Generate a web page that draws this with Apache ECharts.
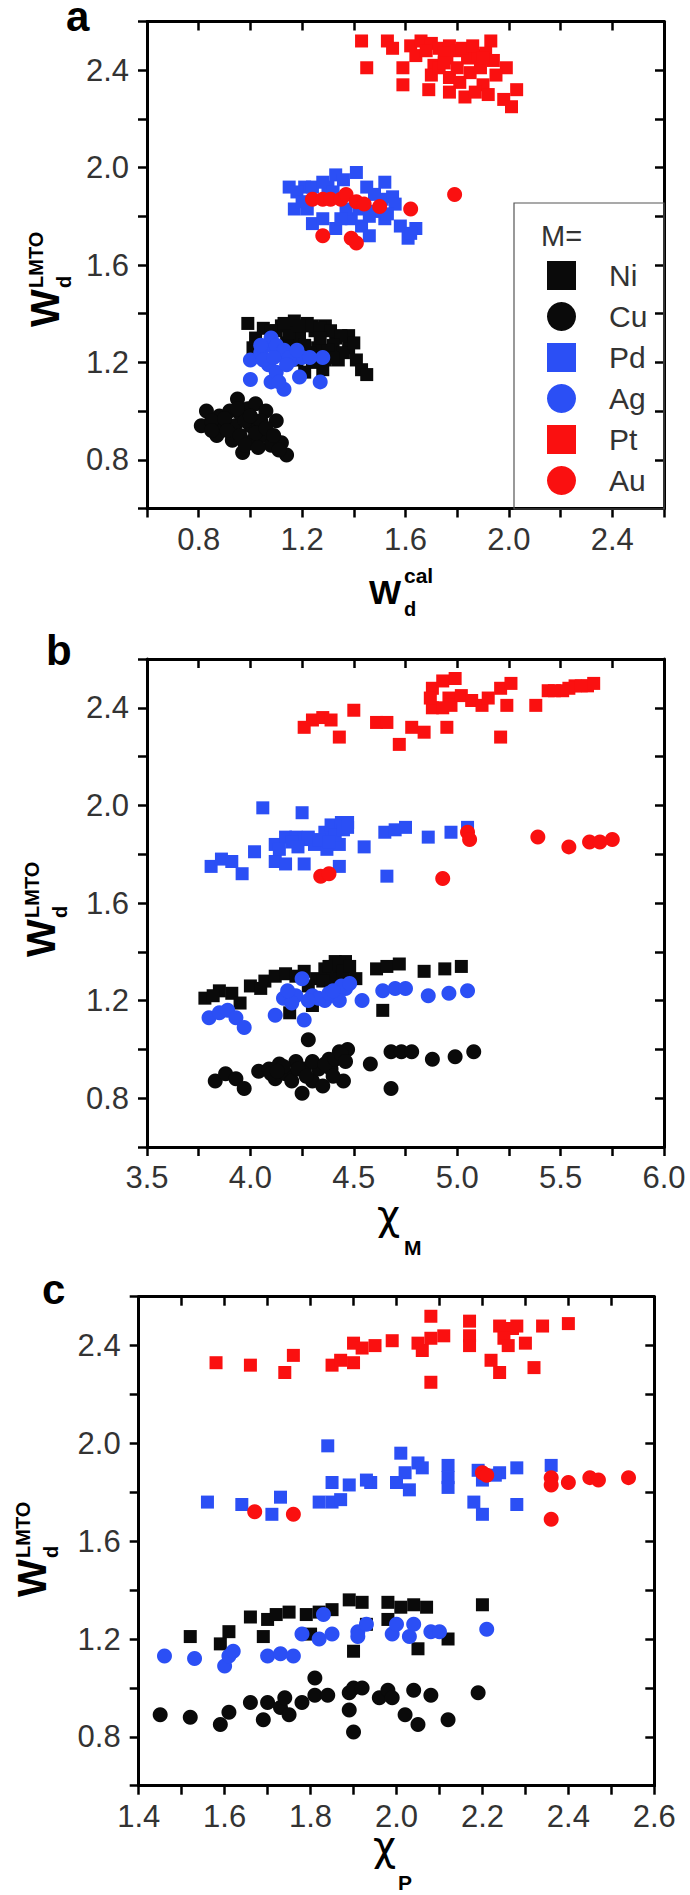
<!DOCTYPE html>
<html>
<head>
<meta charset="utf-8">
<script src="https://cdn.jsdelivr.net/npm/echarts@6/dist/echarts.min.js"></script>
<style>
  html, body { margin: 0; padding: 0; background: #fff; }
  #wrap { position: relative; width: 690px; height: 1895px; }
  .panel { position: absolute; left: 0; width: 690px; }
</style>
</head>
<body>
<div id="wrap">
  <div id="pa" class="panel" style="top:0;height:632px"></div>
  <div id="pb" class="panel" style="top:632px;height:632px"></div>
  <div id="pc" class="panel" style="top:1264px;height:631px"></div>
</div>
<script>
// legend order / categories
const metals = ['Ni', 'Cu', 'Pd', 'Ag', 'Pt', 'Au'];

// tick labels
const yTickLabels = ['0.8', '1.2', '1.6', '2.0', '2.4'];
const xTickLabelsA = ['0.8', '1.2', '1.6', '2.0', '2.4'];
const xTickLabelsB = ['3.5', '4.0', '4.5', '5.0', '5.5', '6.0'];
const xTickLabelsC = ['1.4', '1.6', '1.8', '2.0', '2.2', '2.4', '2.6'];

// panel a: W_d^cal vs W_d^LMTO
const niA = [[0.99,1.36],[1.01,1.26],[1.12,1.35],[1.17,1.37],[1.22,1.36],[1.29,1.35],[1.33,1.30],[1.38,1.31],[1.38,1.26],[1.29,1.21],[1.34,1.21],[1.41,1.21],[1.43,1.17],[1.45,1.15],[1.26,1.26],[1.19,1.30],[1.14,1.28],[1.21,1.16],[1.28,1.17],[1.02,1.30],[1.10,1.33],[1.15,1.32],[1.25,1.33],[1.05,1.34],[1.08,1.33],[1.13,1.36],[1.19,1.35],[1.24,1.35],[1.27,1.34],[1.31,1.33],[1.35,1.31],[1.32,1.27],[1.30,1.25],[1.36,1.24],[1.23,1.24],[1.21,1.27],[1.27,1.30],[1.32,1.22],[1.40,1.28],[1.18,1.21],[1.24,1.20]];
const cuA = [[0.83,1.00],[0.81,0.94],[0.88,0.98],[0.95,1.05],[0.92,1.00],[0.99,1.01],[1.02,1.03],[1.06,1.00],[1.10,0.96],[0.87,0.90],[0.93,0.88],[0.97,0.83],[1.01,0.88],[1.05,0.90],[1.08,0.86],[1.12,0.87],[1.14,0.82],[0.94,0.94],[1.00,0.94],[0.89,0.94],[1.04,0.96],[0.85,0.96],[0.90,0.97],[0.96,0.99],[0.98,0.96],[0.91,0.92],[0.96,0.90],[1.02,0.91],[1.06,0.93],[0.98,0.86],[1.03,0.85],[1.09,0.90],[0.95,1.01],[1.00,0.98],[0.85,0.92],[1.11,0.84]];
const pdA = [[1.15,1.92],[1.21,1.92],[1.24,1.92],[1.33,1.97],[1.41,1.98],[1.52,1.94],[1.30,1.92],[1.17,1.83],[1.22,1.83],[1.24,1.77],[1.33,1.75],[1.39,1.79],[1.43,1.76],[1.46,1.72],[1.48,1.82],[1.52,1.79],[1.51,1.87],[1.55,1.88],[1.56,1.85],[1.61,1.71],[1.64,1.75],[1.37,1.83],[1.18,1.90],[1.28,1.94],[1.32,1.90],[1.36,1.95],[1.45,1.92],[1.48,1.89],[1.42,1.83],[1.46,1.80],[1.53,1.81],[1.58,1.76],[1.62,1.73],[1.35,1.79],[1.28,1.79],[1.20,1.86]];
const agA = [[1.00,1.21],[1.04,1.24],[1.08,1.27],[1.12,1.23],[1.16,1.21],[1.20,1.22],[1.07,1.19],[1.00,1.13],[1.08,1.12],[1.13,1.09],[1.19,1.14],[1.27,1.12],[1.28,1.22],[1.10,1.16],[1.08,1.30],[1.10,1.27],[1.05,1.21],[1.13,1.25],[1.15,1.22],[1.18,1.25],[1.09,1.22],[1.14,1.19],[1.04,1.27],[1.23,1.22],[1.11,1.12]];
const ptA = [[1.43,2.52],[1.53,2.52],[1.45,2.41],[1.59,2.41],[1.59,2.34],[1.55,2.49],[1.62,2.50],[1.66,2.52],[1.70,2.51],[1.73,2.49],[1.77,2.50],[1.80,2.48],[1.93,2.52],[1.71,2.42],[1.70,2.38],[1.76,2.45],[1.80,2.41],[1.84,2.45],[1.88,2.46],[1.91,2.47],[1.89,2.41],[1.77,2.37],[1.69,2.32],[1.77,2.31],[1.83,2.29],[1.90,2.34],[1.99,2.41],[2.03,2.32],[1.98,2.28],[2.01,2.25],[1.94,2.44],[1.73,2.41],[1.64,2.46],[1.68,2.48],[1.75,2.47],[1.82,2.49],[1.86,2.50],[1.90,2.45],[1.85,2.39],[1.81,2.35],[1.75,2.43],[1.95,2.38],[1.87,2.31],[1.92,2.30]];
const auA = [[1.24,1.87],[1.28,1.87],[1.31,1.87],[1.35,1.87],[1.37,1.89],[1.41,1.86],[1.44,1.85],[1.50,1.84],[1.62,1.83],[1.79,1.89],[1.28,1.72],[1.39,1.71],[1.41,1.69]];

// panel b: chi_M vs W_d^LMTO
const niB = [[3.78,1.21],[3.85,1.24],[3.91,1.23],[3.95,1.19],[4.00,1.26],[4.07,1.28],[4.12,1.30],[4.17,1.31],[4.26,1.32],[4.32,1.29],[4.36,1.33],[4.41,1.36],[4.46,1.36],[4.43,1.31],[4.51,1.29],[4.61,1.33],[4.66,1.34],[4.72,1.35],[4.84,1.32],[4.94,1.33],[5.02,1.34],[4.64,1.16],[4.19,1.15],[4.30,1.18],[4.38,1.34],[4.43,1.35],[4.40,1.29],[4.45,1.32],[4.35,1.28],[4.28,1.26],[4.22,1.30],[4.05,1.25],[3.82,1.22],[4.48,1.34],[4.39,1.25]];
const cuB = [[3.83,0.87],[3.88,0.90],[3.93,0.88],[3.97,0.84],[4.04,0.91],[4.09,0.92],[4.14,0.94],[4.12,0.88],[4.17,0.90],[4.22,0.95],[4.20,0.87],[4.28,1.04],[4.25,0.82],[4.30,0.87],[4.35,0.85],[4.26,0.92],[4.33,0.92],[4.38,0.96],[4.43,0.99],[4.47,1.00],[4.39,0.92],[4.45,0.87],[4.58,0.94],[4.68,0.99],[4.73,0.99],[4.78,0.99],[4.68,0.84],[4.88,0.96],[4.99,0.97],[5.08,0.99],[4.16,0.93],[4.23,0.92],[4.30,0.95],[4.36,0.94],[4.41,0.96],[4.44,0.98],[4.46,0.95],[4.10,0.90],[4.27,0.89],[4.40,0.89],[4.13,0.91]];
const pdB = [[4.06,1.99],[4.25,1.97],[4.02,1.81],[4.12,1.84],[4.17,1.87],[4.22,1.87],[4.26,1.86],[4.31,1.84],[4.36,1.89],[4.39,1.92],[4.44,1.93],[4.47,1.93],[4.43,1.84],[4.37,1.82],[4.12,1.77],[4.17,1.76],[4.26,1.76],[4.43,1.75],[3.96,1.72],[3.81,1.75],[3.86,1.78],[3.91,1.77],[4.55,1.83],[4.65,1.89],[4.70,1.90],[4.75,1.91],[4.86,1.87],[4.97,1.89],[5.05,1.91],[4.66,1.71],[4.20,1.85],[4.28,1.87],[4.33,1.86],[4.41,1.88],[4.45,1.90],[4.47,1.91],[4.38,1.85],[4.14,1.82],[4.23,1.83]];
const agB = [[3.80,1.13],[3.85,1.15],[3.89,1.16],[3.93,1.13],[3.97,1.09],[4.12,1.14],[4.26,1.12],[4.16,1.21],[4.22,1.22],[4.25,1.29],[4.30,1.22],[4.36,1.20],[4.41,1.22],[4.46,1.25],[4.43,1.20],[4.54,1.20],[4.64,1.24],[4.70,1.25],[4.75,1.25],[4.86,1.22],[4.96,1.23],[5.05,1.24],[4.33,1.21],[4.38,1.23],[4.44,1.26],[4.48,1.27],[4.40,1.24],[4.20,1.19],[4.28,1.20],[4.18,1.24]];
const ptB = [[4.26,2.32],[4.30,2.35],[4.35,2.36],[4.39,2.35],[4.43,2.28],[4.50,2.39],[4.61,2.34],[4.66,2.34],[4.72,2.25],[4.78,2.32],[4.84,2.30],[4.95,2.32],[4.88,2.40],[4.88,2.48],[4.93,2.51],[4.99,2.52],[4.96,2.44],[4.87,2.44],[4.93,2.40],[4.97,2.41],[5.02,2.45],[5.07,2.43],[5.12,2.41],[5.15,2.44],[5.21,2.48],[5.26,2.50],[5.24,2.41],[5.21,2.28],[5.38,2.41],[5.44,2.47],[5.51,2.47],[5.57,2.49],[5.63,2.49],[5.66,2.50],[5.47,2.47],[5.54,2.48],[5.60,2.49]];
const auB = [[4.34,1.71],[4.38,1.72],[5.05,1.89],[5.06,1.86],[4.93,1.70],[5.39,1.87],[5.54,1.83],[5.64,1.85],[5.69,1.85],[5.75,1.86]];

// panel c: chi_P vs W_d^LMTO
const niC = [[1.52,1.21],[1.59,1.18],[1.61,1.23],[1.66,1.29],[1.70,1.28],[1.72,1.30],[1.75,1.31],[1.79,1.30],[1.82,1.31],[1.85,1.32],[1.89,1.36],[1.92,1.35],[1.98,1.35],[2.01,1.33],[2.04,1.34],[2.07,1.33],[1.90,1.15],[2.05,1.16],[2.12,1.20],[2.20,1.34],[1.69,1.21],[1.80,1.22],[1.93,1.26],[1.98,1.28]];
const cuC = [[1.45,0.89],[1.52,0.88],[1.59,0.85],[1.61,0.90],[1.66,0.94],[1.69,0.87],[1.70,0.94],[1.73,0.92],[1.74,0.96],[1.75,0.89],[1.78,0.94],[1.81,1.04],[1.81,0.97],[1.84,0.97],[1.89,0.98],[1.89,0.91],[1.90,1.00],[1.92,1.00],[1.90,0.82],[1.96,0.96],[1.98,0.99],[1.99,0.96],[2.02,0.89],[2.04,0.99],[2.05,0.85],[2.08,0.97],[2.12,0.87],[2.19,0.98]];
const pdC = [[1.56,1.76],[1.64,1.75],[1.73,1.78],[1.71,1.71],[1.82,1.76],[1.85,1.76],[1.87,1.77],[1.85,1.84],[1.89,1.83],[1.94,1.84],[2.00,1.84],[2.02,1.88],[2.03,1.81],[2.01,1.96],[2.05,1.92],[2.06,1.90],[2.12,1.91],[2.12,1.86],[2.12,1.82],[2.19,1.89],[2.20,1.85],[2.24,1.88],[2.28,1.90],[2.18,1.76],[2.20,1.71],[2.28,1.75],[2.36,1.91],[1.84,1.99],[1.93,1.85],[2.23,1.87]];
const agC = [[1.46,1.13],[1.53,1.12],[1.60,1.09],[1.61,1.13],[1.62,1.15],[1.70,1.13],[1.73,1.14],[1.76,1.13],[1.83,1.30],[1.78,1.22],[1.82,1.20],[1.85,1.22],[1.91,1.23],[1.93,1.26],[1.99,1.22],[2.03,1.21],[2.04,1.26],[2.08,1.23],[2.10,1.23],[2.21,1.24],[1.91,1.21],[2.00,1.26]];
const ptC = [[1.58,2.33],[1.66,2.32],[1.74,2.29],[1.76,2.36],[1.85,2.32],[1.87,2.34],[1.90,2.33],[1.90,2.41],[1.92,2.39],[1.95,2.40],[1.99,2.42],[2.05,2.41],[2.06,2.38],[2.08,2.43],[2.11,2.44],[2.08,2.52],[2.08,2.25],[2.17,2.50],[2.17,2.44],[2.17,2.40],[2.22,2.34],[2.24,2.29],[2.24,2.48],[2.27,2.47],[2.25,2.43],[2.26,2.40],[2.28,2.48],[2.30,2.41],[2.32,2.31],[2.34,2.48],[2.40,2.49]];
const auC = [[1.67,1.72],[1.76,1.71],[2.20,1.88],[2.21,1.87],[2.36,1.86],[2.36,1.83],[2.40,1.84],[2.45,1.86],[2.47,1.85],[2.54,1.86],[2.36,1.69]];

const BLACK = '#0a0a0a', BLUE = '#2b4ff5', RED = '#fa1010';
const metalColor = { Ni: BLACK, Cu: BLACK, Pd: BLUE, Ag: BLUE, Pt: RED, Au: RED };
const metalSymbol = { Ni: 'rect', Cu: 'circle', Pd: 'rect', Ag: 'circle', Pt: 'rect', Au: 'circle' };
const FONT = 'Liberation Sans';

function valueAxis(position, min, max, step, labels, inside, margin) {
  return {
    type: 'value', position, min, max, interval: step,
    axisLine: { show: true, onZero: false, lineStyle: { color: '#000', width: 3 } },
    splitLine: { show: false },
    axisTick: { show: true, inside: inside, length: 9, lineStyle: { color: '#000', width: 2.5 } },
    axisLabel: inside ? { show: false } : {
      show: true, margin, color: '#333', fontSize: 31, fontFamily: FONT,
      showMinLabel: true, showMaxLabel: true,
      formatter: (v) => { const s = v.toFixed(1); return labels.includes(s) ? s : ''; },
    },
  };
}

function txt(x, y, text, size, weight, family) {
  return {
    type: 'text', x, y,
    style: { text, fontSize: size, fontWeight: weight || 'normal', fontFamily: family || FONT,
             fill: '#000', align: 'left', verticalAlign: 'middle' },
  };
}

// rotated y axis title W_d^LMTO
function yTitle(x, y) {
  return {
    type: 'group', x, y, rotation: Math.PI / 2,
    children: [
      txt(0, -14, 'W', 40, 'bold'),
      txt(39, 5, 'd', 20, 'bold'),
      txt(39, -23, 'LMTO', 20, 'bold'),
    ],
  };
}

const panels = [
  { el: 'pa', data: { Ni: niA, Cu: cuA, Pd: pdA, Ag: agA, Pt: ptA, Au: auA },
    grid: { left: 147, top: 21.5, width: 517, height: 487 },
    xMin: 0.6, xMax: 2.6, xStep: 0.2, xLabels: xTickLabelsA, legend: true,
    graphic: [
      txt(66, 16, 'a', 42, 'bold'), yTitle(59, 327),
      txt(369, 592, 'W', 34, 'bold'), txt(404, 575, 'cal', 21, 'bold'), txt(404, 609, 'd', 20, 'bold'),
      { type: 'rect', shape: { x: 514, y: 203, width: 150, height: 306 },
        style: { fill: 'none', stroke: '#555', lineWidth: 1.2 }, z: 1 },
      { type: 'text', x: 541, y: 236,
        style: { text: 'M=', fontSize: 29, fontFamily: FONT, fill: '#333', align: 'left', verticalAlign: 'middle' } },
    ] },
  { el: 'pb', data: { Ni: niB, Cu: cuB, Pd: pdB, Ag: agB, Pt: ptB, Au: auB },
    grid: { left: 147, top: 27, width: 517, height: 488 },
    xMin: 3.5, xMax: 6.0, xStep: 0.25, xLabels: xTickLabelsB, legend: false,
    graphic: [
      txt(46, 18, 'b', 42, 'bold'), yTitle(55, 325),
      txt(377, 583, 'χ', 40, 'normal', 'DejaVu Sans'), txt(404, 615, 'M', 21, 'bold'),
    ] },
  { el: 'pc', data: { Ni: niC, Cu: cuC, Pd: pdC, Ag: agC, Pt: ptC, Au: auC },
    grid: { left: 138.7, top: 32.7, width: 515.6, height: 489 },
    xMin: 1.4, xMax: 2.6, xStep: 0.1, xLabels: xTickLabelsC, legend: false,
    graphic: [
      txt(42, 25, 'c', 42, 'bold'), yTitle(46, 333),
      txt(373, 582, 'χ', 40, 'normal', 'DejaVu Sans'), txt(398, 618, 'P', 21, 'bold'),
    ] },
];

panels.forEach((p) => {
  const chart = echarts.init(document.getElementById(p.el), null, { renderer: 'svg' });
  chart.setOption({
    animation: false,
    backgroundColor: '#fff',
    grid: p.grid,
    xAxis: [
      valueAxis('bottom', p.xMin, p.xMax, p.xStep, p.xLabels, false, 15),
      valueAxis('top', p.xMin, p.xMax, p.xStep, p.xLabels, true),
    ],
    yAxis: [
      valueAxis('left', 0.6, 2.6, 0.2, yTickLabels, false, 18),
      valueAxis('right', 0.6, 2.6, 0.2, yTickLabels, true),
    ],
    legend: p.legend ? {
      orient: 'vertical', left: 547, top: 260.5, padding: 0,
      itemGap: 11, itemWidth: 29, itemHeight: 29, selectedMode: false,
      textStyle: { fontSize: 30, fontFamily: FONT, color: '#333', lineHeight: 30, padding: [0, 0, 0, 28] },
      data: metals.map((m) => ({ name: m, icon: metalSymbol[m], itemStyle: { color: metalColor[m] } })),
    } : { show: false },
    graphic: p.graphic,
    series: metals.map((m) => ({
      type: 'scatter', name: m, xAxisIndex: 0, yAxisIndex: 0,
      data: p.data[m],
      symbol: metalSymbol[m], symbolSize: metalSymbol[m] === 'rect' ? 13 : 15,
      itemStyle: { color: metalColor[m], opacity: 1 },
    })),
  });
});
</script>
</body>
</html>
